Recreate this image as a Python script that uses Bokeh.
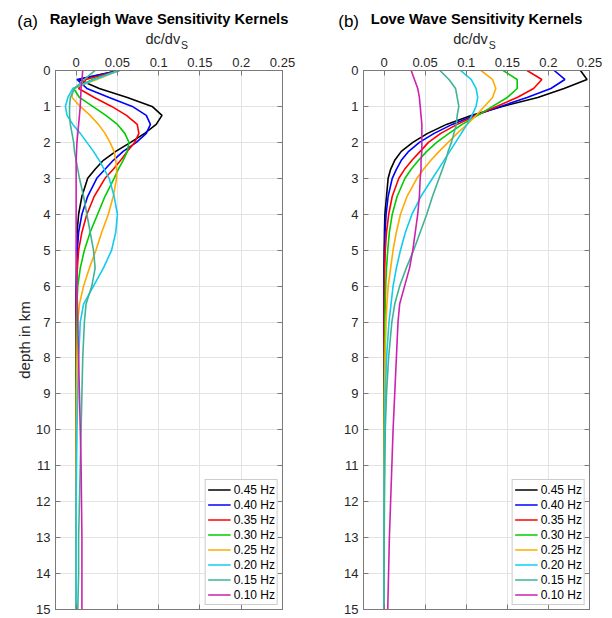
from bokeh.plotting import figure
from bokeh.models import (Range1d, FixedTicker, LinearAxis, Label, Legend, LegendItem,
                          CustomJSTickFormatter)
from bokeh.layouts import row, column
from bokeh.embed import file_html
from bokeh.resources import INLINE

# ---------------- data ----------------
depth_km = [0, 0.25, 0.5, 0.75, 1.0, 1.25, 1.5, 1.75, 2.0, 2.25, 2.5, 2.75, 3.0,
            3.5, 4.0, 4.5, 5.0, 5.5, 6.0, 6.5, 7.0, 8.0, 9.0, 10.0, 11.0, 12.0, 13.0, 14.0, 15.0]

freq_labels = ["0.45 Hz", "0.40 Hz", "0.35 Hz", "0.30 Hz", "0.25 Hz", "0.20 Hz", "0.15 Hz", "0.10 Hz"]
line_colors = ["#000000", "#0000ff", "#ff0000", "#00cc00", "#ffaa00", "#11ccee", "#3fb394", "#cc22b0"]

x_ticks = [0, 0.05, 0.1, 0.15, 0.2, 0.25]
y_ticks = [0, 1, 2, 3, 4, 5, 6, 7, 8, 9, 10, 11, 12, 13, 14, 15]

# Rayleigh wave kernels dc/dvS
rayleigh_045 = [0.052, 0.003, 0.028, 0.062, 0.092, 0.104, 0.097, 0.083, 0.066, 0.048, 0.033, 0.023, 0.014,
                0.007, 0.003, 0.0012, 0.0006, 0.0003, 0.0002, 0.0001, 0, 0, 0, 0, 0, 0, 0, 0, 0]
rayleigh_040 = [0.052, 0.001, 0.013, 0.040, 0.068, 0.085, 0.090, 0.085, 0.073, 0.057, 0.045, 0.035, 0.025,
                0.014, 0.007, 0.003, 0.0015, 0.0007, 0.0003, 0.0001, 0, 0, 0, 0, 0, 0, 0, 0, 0]
rayleigh_035 = [0.052, 0.012, 0.003, 0.022, 0.043, 0.061, 0.074, 0.076, 0.071, 0.062, 0.054, 0.045, 0.035,
                0.022, 0.013, 0.007, 0.003, 0.0015, 0.0007, 0.0003, 0.0001, 0, 0, 0, 0, 0, 0, 0, 0]
rayleigh_030 = [0.052, 0.020, -0.003, 0.004, 0.020, 0.036, 0.050, 0.059, 0.064, 0.062, 0.057, 0.051, 0.046,
                0.035, 0.026, 0.017, 0.010, 0.005, 0.002, 0.001, 0.0005, 0.0002, 0, 0, 0, 0, 0, 0, 0]
rayleigh_025 = [0.052, 0.025, -0.004, -0.005, 0.005, 0.017, 0.027, 0.035, 0.041, 0.046, 0.048, 0.049, 0.049,
                0.045, 0.039, 0.031, 0.024, 0.016, 0.009, 0.004, 0.002, 0.001, 0.0005, 0.0002, 0, 0, 0, 0, 0]
rayleigh_020 = [0.052, 0.022, -0.004, -0.010, -0.013, -0.011, -0.004, 0.005, 0.013, 0.021, 0.028, 0.034, 0.040,
                0.046, 0.050, 0.048, 0.043, 0.033, 0.021, 0.009, 0.005, 0.003, 0.002, 0.001, 0.0005, 0, 0, 0, 0]
rayleigh_015 = [0.023, 0.010, -0.002, -0.007, -0.008, -0.008, -0.007, -0.005, -0.003, -0.002, 0.0, 0.002, 0.004,
                0.009, 0.013, 0.017, 0.021, 0.023, 0.019, 0.012, 0.010, 0.008, 0.007, 0.006, 0.005, 0.004, 0.003, 0.003, 0.002]
rayleigh_010 = [0.008, 0.007, 0.006, 0.0055, 0.005, 0.004, 0.003, 0.002, 0.001, 0.0005, 0.0, 0.0, 0.0,
                0.0, 0.0, 0.0, 0.0, 0.0005, 0.001, 0.0015, 0.002, 0.003, 0.004, 0.005, 0.006, 0.0065, 0.007, 0.007, 0.007]

# Love wave kernels dc/dvS
love_045 = [0.239, 0.247, 0.219, 0.187, 0.144, 0.106, 0.076, 0.053, 0.035, 0.021, 0.013, 0.008, 0.005,
            0.003, 0.001, 0.0005, 0.0002, 0, 0, 0, 0, 0, 0, 0, 0, 0, 0, 0, 0]
love_040 = [0.207, 0.220, 0.203, 0.174, 0.142, 0.110, 0.083, 0.061, 0.043, 0.030, 0.021, 0.015, 0.010,
            0.005, 0.0025, 0.0012, 0.0006, 0.0003, 0.0001, 0, 0, 0, 0, 0, 0, 0, 0, 0, 0]
love_035 = [0.174, 0.192, 0.182, 0.162, 0.137, 0.112, 0.089, 0.069, 0.054, 0.044, 0.034, 0.025, 0.018,
            0.010, 0.0057, 0.003, 0.0015, 0.0008, 0.0004, 0.0002, 0.0001, 0, 0, 0, 0, 0, 0, 0, 0]
love_030 = [0.145, 0.162, 0.162, 0.150, 0.132, 0.114, 0.095, 0.079, 0.064, 0.052, 0.042, 0.033, 0.0255,
            0.016, 0.010, 0.0065, 0.0045, 0.003, 0.002, 0.0015, 0.001, 0.0005, 0.0002, 0, 0, 0, 0, 0, 0]
love_025 = [0.118, 0.132, 0.136, 0.132, 0.122, 0.112, 0.101, 0.089, 0.078, 0.067, 0.057, 0.048, 0.040,
            0.028, 0.020, 0.015, 0.011, 0.008, 0.005, 0.0035, 0.0025, 0.0012, 0.0006, 0.0003, 0.0001, 0, 0, 0, 0]
love_020 = [0.093, 0.106, 0.112, 0.114, 0.112, 0.107, 0.101, 0.094, 0.087, 0.080, 0.073, 0.066, 0.059,
            0.045, 0.034, 0.026, 0.020, 0.015, 0.011, 0.0085, 0.006, 0.003, 0.0015, 0.0007, 0.0003, 0.0001, 0, 0, 0]
love_015 = [0.068, 0.079, 0.087, 0.089, 0.091, 0.089, 0.088, 0.085, 0.082, 0.078, 0.075, 0.071, 0.067,
            0.059, 0.052, 0.044, 0.036, 0.027, 0.019, 0.013, 0.0095, 0.0055, 0.003, 0.0015, 0.001, 0.0005, 0.0002, 0, 0]
love_010 = [0.033, 0.037, 0.041, 0.043, 0.044, 0.045, 0.046, 0.046, 0.046, 0.046, 0.045, 0.045, 0.044,
            0.043, 0.041, 0.038, 0.035, 0.031, 0.025, 0.019, 0.017, 0.015, 0.013, 0.011, 0.0095, 0.008, 0.0065, 0.0055, 0.0045]

rayleigh_series = [rayleigh_045, rayleigh_040, rayleigh_035, rayleigh_030,
                   rayleigh_025, rayleigh_020, rayleigh_015, rayleigh_010]
love_series = [love_045, love_040, love_035, love_030, love_025, love_020, love_015, love_010]

# ---------------- styling / layout ----------------
FONT = "Liberation Sans"
AX_COLOR = "#7a7a7a"
TXT_COLOR = "#262626"
GRID_COLOR = "#e3e3e3"
HEAD_H = 52          # header strip (titles, dc/dvS)
MAIN_H = 566         # plotting figure
X0, X1 = -0.025, 0.25

tick_fmt = CustomJSTickFormatter(code="return String(Math.round(tick*100)/100);")


def make_header(width, tag, tag_right, title, title_cx, lab_left):
    h = figure(width=width, height=HEAD_H, output_backend="svg", toolbar_location=None,
               title=None, x_range=Range1d(0, width), y_range=Range1d(HEAD_H, 0),
               x_axis_location=None, y_axis_location=None,
               min_border_left=0, min_border_right=0, min_border_top=0, min_border_bottom=0,
               background_fill_color="white", border_fill_color="white")
    h.outline_line_color = None
    h.xgrid.visible = False
    h.ygrid.visible = False
    h.add_layout(Label(x=tag_right, y=21, text=tag, text_align="right",
                       text_baseline="alphabetic", text_font=FONT, text_font_size="17px",
                       text_color="#000000"))
    h.add_layout(Label(x=title_cx, y=18.5, text=title, text_align="center",
                       text_baseline="alphabetic", text_font=FONT, text_font_size="14.7px",
                       text_font_style="bold", text_color="#000000"))
    h.add_layout(Label(x=lab_left, y=38, text="dc/dv", text_align="left",
                       text_baseline="alphabetic", text_font=FONT, text_font_size="14.5px",
                       text_color=TXT_COLOR))
    h.add_layout(Label(x=lab_left + 35.5, y=44, text="S", text_align="left",
                       text_baseline="alphabetic", text_font=FONT, text_font_size="10.5px",
                       text_color=TXT_COLOR))
    return h


def make_panel(series, width, bl, br, ylabel):
    p = figure(width=width, height=MAIN_H, output_backend="svg", toolbar_location=None,
               title=None, x_range=Range1d(X0, X1), y_range=Range1d(15, 0),
               x_axis_location="above", min_border_left=bl, min_border_right=br,
               min_border_top=18, min_border_bottom=9,
               background_fill_color="white", border_fill_color="white")
    p.outline_line_color = AX_COLOR

    xt = FixedTicker(ticks=x_ticks)
    yt = FixedTicker(ticks=y_ticks)

    for ax in (p.xaxis[0], p.yaxis[0]):
        ax.axis_line_color = AX_COLOR
        ax.major_tick_line_color = AX_COLOR
        ax.major_tick_in = 5
        ax.major_tick_out = 0
        ax.minor_tick_line_color = None
        ax.major_label_text_font = FONT
        ax.major_label_text_font_size = "13px"
        ax.major_label_text_color = TXT_COLOR
    p.xaxis[0].ticker = xt
    p.xaxis[0].formatter = tick_fmt
    p.xaxis[0].major_label_standoff = 4
    p.yaxis[0].ticker = yt
    p.yaxis[0].major_label_standoff = 5
    if ylabel:
        p.yaxis[0].axis_label = ylabel
        p.yaxis[0].axis_label_text_font = FONT
        p.yaxis[0].axis_label_text_font_size = "15px"
        p.yaxis[0].axis_label_text_font_style = "normal"
        p.yaxis[0].axis_label_text_color = TXT_COLOR
        p.yaxis[0].axis_label_standoff = 0

    # opposite-side ticks of the box (no labels drawn)
    for side, tk in (("right", yt), ("below", xt)):
        ax = LinearAxis(ticker=tk, axis_line_color=AX_COLOR, major_tick_line_color=AX_COLOR,
                        major_tick_in=5, major_tick_out=0, minor_tick_line_color=None,
                        major_label_text_font_size="1px", major_label_text_color=None,
                        major_label_standoff=0)
        p.add_layout(ax, side)

    p.xgrid.ticker = xt
    p.ygrid.ticker = yt
    p.xgrid.grid_line_color = GRID_COLOR
    p.ygrid.grid_line_color = GRID_COLOR

    items = []
    for vals, col, lab in zip(series, line_colors, freq_labels):
        r = p.line(vals, depth_km, line_color=col, line_width=1.6)
        items.append(LegendItem(label=lab, renderers=[r]))

    legend = Legend(items=items, location="bottom_right", margin=4, padding=2, spacing=0,
                    glyph_width=23, glyph_height=15, label_height=15, label_standoff=3,
                    label_text_font=FONT, label_text_font_size="12px", label_text_color="#000000",
                    border_line_color="#9a9a9a", border_line_width=1,
                    background_fill_color="white", background_fill_alpha=1.0)
    p.add_layout(legend)
    return p


# left panel: frame 55..282 ; right panel (starts at 306): frame 363..589 ; frame rows ~70..609
h1 = make_header(306, "(a)", 37.5, "Rayleigh Wave Sensitivity Kernels", 168.5, 145)
h2 = make_header(305, "(b)", 52.5, "Love Wave Sensitivity Kernels", 170, 146.7)
p1 = make_panel(rayleigh_series, 306, 55, 24, "depth in km")
p2 = make_panel(love_series, 305, 57, 22, None)

layout = column(row(h1, h2), row(p1, p2))
open("out.html", "w").write(file_html(layout, INLINE))
